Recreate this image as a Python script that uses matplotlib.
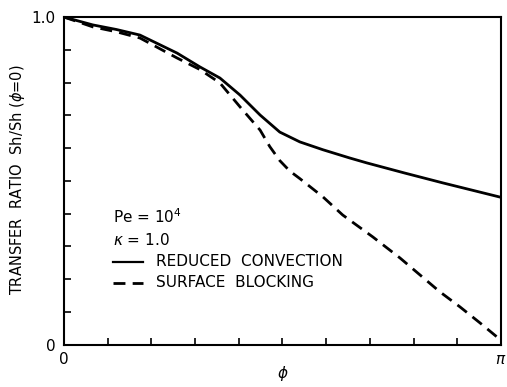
import numpy as np
import matplotlib.pyplot as plt

# valores, phi en fracciones de pi
phi_conv = [0.0, 0.066, 0.12, 0.174, 0.259, 0.311, 0.357, 0.403, 0.449, 0.494, 0.54, 0.593, 0.654, 0.693, 0.78, 0.867, 1.0]
sh_conv = [1.0, 0.976, 0.962, 0.945, 0.89, 0.848, 0.814, 0.762, 0.701, 0.649, 0.619, 0.595, 0.57, 0.555, 0.524, 0.494, 0.45]

phi_block = [0.0, 0.066, 0.12, 0.174, 0.259, 0.311, 0.357, 0.403, 0.449, 0.471, 0.494, 0.517, 0.54, 0.593,
             0.638, 0.707, 0.769, 0.815, 0.86, 0.906, 0.952, 0.991, 1.0]
sh_block = [1.0, 0.97, 0.955, 0.936, 0.875, 0.84, 0.799, 0.726, 0.655, 0.605, 0.562, 0.53, 0.507, 0.451,
            0.396, 0.329, 0.265, 0.213, 0.162, 0.116, 0.067, 0.024, 0.01]

x_ticks = [i / 10 * np.pi for i in range(11)]
x_labels = ['0'] + [''] * 9 + [r'$\pi$']
y_ticks = [i / 10 for i in range(11)]
y_labels = ['0'] + [''] * 9 + ['1.0']

plt.rcParams['font.family'] = ['DejaVu Sans']

fig = plt.figure(figsize=(5.07, 3.87), dpi=100)
ax = fig.add_axes([0.126, 0.109, 0.862, 0.847])

ax.plot(np.array(phi_conv) * np.pi, sh_conv, color='black', lw=2.0, solid_capstyle='round')
ax.plot(np.array(phi_block) * np.pi, sh_block, color='black', lw=2.0, dashes=(4.3, 2.6))

ax.set_xlim(0, np.pi)
ax.set_ylim(0, 1.0)
ax.set_xticks(x_ticks)
ax.set_xticklabels(x_labels)
ax.set_yticks(y_ticks)
ax.set_yticklabels(y_labels)
ax.tick_params(direction='in', length=5, width=1.2, labelsize=11, pad=6)
ax.tick_params(axis='x', pad=5)
for s in ax.spines.values():
    s.set_linewidth(1.5)

ax.set_xlabel(r'$\phi$', fontsize=11, va='center')
ax.xaxis.set_label_coords(0.502, -0.088)
ax.set_ylabel(r'TRANSFER  RATIO  Sh/Sh ($\phi$=0)', fontsize=10.5, va='center')
ax.yaxis.set_label_coords(-0.107, 0.503)

# anotaciones y leyenda dibujada a mano
ax.text(0.112, 0.39, r'Pe = 10$^4$', transform=ax.transAxes, fontsize=11, va='center')
ax.text(0.112, 0.32, r'$\kappa$ = 1.0', transform=ax.transAxes, fontsize=11, va='center')
ax.plot([0.112, 0.18], [0.253, 0.253], transform=ax.transAxes, color='black', lw=1.6)
ax.plot([0.112, 0.18], [0.19, 0.19], transform=ax.transAxes, color='black', lw=2.0, dashes=(4.3, 2.6))
ax.text(0.21, 0.253, 'REDUCED  CONVECTION', transform=ax.transAxes, fontsize=11, va='center')
ax.text(0.21, 0.19, 'SURFACE  BLOCKING', transform=ax.transAxes, fontsize=11, va='center')

fig.savefig('out.png', dpi=100)
